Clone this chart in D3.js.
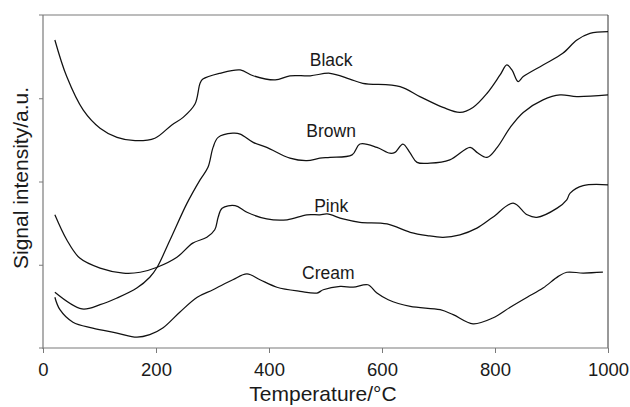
<!DOCTYPE html>
<html>
<head>
<meta charset="utf-8">
<script src="https://cdn.jsdelivr.net/npm/d3@7"></script>
<style>
  html, body { margin: 0; padding: 0; background: #fff; }
  svg { display: block; font-family: "Liberation Sans", Arial, sans-serif; }
</style>
</head>
<body>
<svg id="chart" width="630" height="407"></svg>
<script>
// Evolved-gas signal vs. temperature for four pigment samples (arbitrary units)
const xTicks = [0, 200, 400, 600, 800, 1000];
const yTicks = [1, 2, 3];

const blackT = [21, 42, 71, 101, 131, 163, 198, 228, 248, 269, 278, 283, 313, 349, 372, 411, 437, 473, 508, 543, 566, 632, 667, 708, 738, 761, 786, 809, 821, 830, 841, 850, 885, 920, 945, 968, 1000];
const blackY = [3.70, 3.26, 2.86, 2.64, 2.53, 2.49, 2.52, 2.68, 2.77, 2.93, 3.18, 3.23, 3.30, 3.34, 3.27, 3.22, 3.27, 3.27, 3.30, 3.23, 3.18, 3.14, 3.02, 2.89, 2.83, 2.89, 3.06, 3.28, 3.40, 3.34, 3.20, 3.26, 3.40, 3.54, 3.70, 3.78, 3.80];

const brownT = [21, 69, 101, 131, 166, 189, 202, 225, 255, 278, 292, 301, 310, 336, 349, 372, 396, 437, 467, 490, 508, 547, 561, 591, 614, 623, 637, 650, 662, 685, 720, 756, 768, 786, 804, 827, 850, 885, 915, 945, 1000];
const brownY = [0.67, 0.47, 0.52, 0.60, 0.72, 0.85, 0.97, 1.30, 1.74, 2.02, 2.17, 2.41, 2.53, 2.58, 2.57, 2.47, 2.41, 2.28, 2.25, 2.28, 2.29, 2.32, 2.45, 2.41, 2.34, 2.35, 2.45, 2.34, 2.23, 2.22, 2.26, 2.41, 2.35, 2.29, 2.41, 2.65, 2.83, 2.98, 3.04, 3.02, 3.04];

const pinkT = [21, 42, 65, 101, 142, 172, 202, 237, 265, 290, 304, 310, 317, 340, 361, 396, 432, 467, 490, 503, 531, 561, 609, 650, 680, 708, 738, 768, 796, 832, 857, 874, 910, 927, 933, 956, 1000];
const pinkY = [1.60, 1.30, 1.08, 0.96, 0.90, 0.91, 0.97, 1.09, 1.26, 1.33, 1.42, 1.57, 1.68, 1.71, 1.63, 1.55, 1.54, 1.60, 1.60, 1.61, 1.55, 1.51, 1.49, 1.39, 1.35, 1.33, 1.36, 1.44, 1.57, 1.74, 1.60, 1.57, 1.68, 1.78, 1.86, 1.95, 1.96];

const creamT = [21, 30, 53, 88, 131, 166, 189, 212, 242, 273, 301, 336, 361, 384, 414, 455, 485, 496, 526, 549, 575, 591, 611, 650, 703, 726, 761, 796, 827, 857, 885, 912, 927, 956, 991];
const creamY = [0.61, 0.46, 0.31, 0.24, 0.18, 0.13, 0.16, 0.24, 0.43, 0.61, 0.70, 0.82, 0.89, 0.82, 0.73, 0.68, 0.66, 0.70, 0.74, 0.73, 0.76, 0.66, 0.58, 0.50, 0.46, 0.40, 0.29, 0.36, 0.49, 0.61, 0.72, 0.86, 0.91, 0.90, 0.91];

const sampleNames = ["Black", "Brown", "Pink", "Cream"];
// label anchor for each trace, in data units
const labelT = [510, 510, 510, 505];
const labelY = [3.39, 2.53, 1.63, 0.83];

const series = [
  { name: sampleNames[0], t: blackT, v: blackY },
  { name: sampleNames[1], t: brownT, v: brownY },
  { name: sampleNames[2], t: pinkT, v: pinkY },
  { name: sampleNames[3], t: creamT, v: creamY }
];

const svg = d3.select("#chart");
const margin = { left: 43, right: 22, top: 15, bottom: 59 };
const W = 630, H = 407;

const x = d3.scaleLinear().domain([0, 1000]).range([margin.left, W - margin.right]);
const y = d3.scaleLinear().domain([0, 4]).range([H - margin.bottom, margin.top]);

const axisColor = "#7a7a7a";

// frame: top and right edges
svg.append("line")
  .attr("x1", x(0) - 4).attr("x2", x(1000))
  .attr("y1", y(4)).attr("y2", y(4))
  .attr("stroke", axisColor).attr("stroke-width", 1.2);
svg.append("line")
  .attr("x1", x(1000)).attr("x2", x(1000))
  .attr("y1", y(4)).attr("y2", y(0))
  .attr("stroke", "#333").attr("stroke-width", 1);

// bottom axis
const gx = svg.append("g")
  .attr("transform", `translate(0,${y(0)})`)
  .call(d3.axisBottom(x).tickValues(xTicks).tickSize(5).tickSizeOuter(0)
    .tickPadding(10).tickFormat(d3.format("d")));
gx.select(".domain").attr("stroke", axisColor).attr("stroke-width", 1.2)
  .attr("d", `M${x(0) - 4},0H${x(1000)}`);
gx.selectAll(".tick line").attr("stroke", axisColor);
gx.selectAll(".tick text")
  .attr("fill", "#1a1a1a")
  .style("font-size", "18.5px")
  .style("font-family", "'Liberation Sans', Arial, sans-serif");

// left axis (unlabelled ticks)
const gy = svg.append("g")
  .attr("transform", `translate(${x(0)},0)`)
  .call(d3.axisLeft(y).tickValues(yTicks).tickSize(4).tickSizeOuter(0).tickFormat(""));
gy.select(".domain").attr("stroke", axisColor).attr("stroke-width", 1.2)
  .attr("d", `M0,${y(4)}V${y(0) + 1}`);
gy.selectAll(".tick line").attr("stroke", axisColor);

// traces
const line = d3.line()
  .x(d => x(d[0]))
  .y(d => y(d[1]))
  .curve(d3.curveCatmullRom.alpha(0.5));

svg.append("g").selectAll("path")
  .data(series)
  .join("path")
  .attr("d", s => line(s.t.map((t, i) => [t, s.v[i]])))
  .attr("fill", "none")
  .attr("stroke", "#111")
  .attr("stroke-width", 1.25)
  .attr("stroke-linejoin", "round");

// trace labels
svg.append("g").selectAll("text")
  .data(series)
  .join("text")
  .attr("x", (s, i) => x(labelT[i]))
  .attr("y", (s, i) => y(labelY[i]))
  .attr("text-anchor", "middle")
  .attr("fill", "#1a1a1a")
  .style("font-size", "17.5px")
  .text(s => s.name);

// axis titles
svg.append("text")
  .attr("x", 323).attr("y", 401)
  .attr("text-anchor", "middle")
  .attr("fill", "#1a1a1a")
  .style("font-size", "21px")
  .text("Temperature/°C");

svg.append("text")
  .attr("transform", `translate(28,178) rotate(-90)`)
  .attr("text-anchor", "middle")
  .attr("fill", "#1a1a1a")
  .style("font-size", "21px")
  .text("Signal intensity/a.u.");
</script>
</body>
</html>
